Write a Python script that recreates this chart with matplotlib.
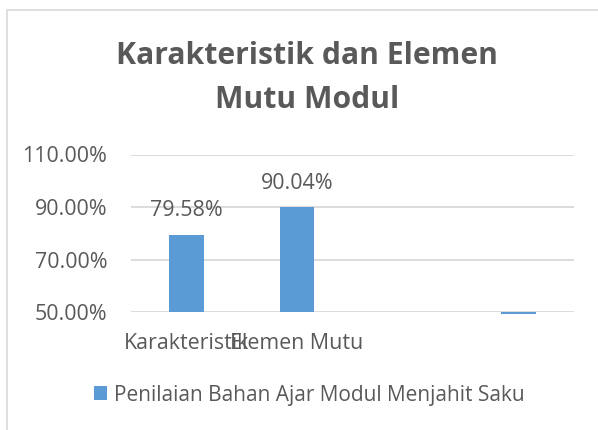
import numpy as np
import matplotlib
matplotlib.use("Agg")
import matplotlib.pyplot as plt
from matplotlib.patches import Rectangle, Patch

categories = ["Karakteristik", "Elemen Mutu", "", ""]
values = [0.7958, 0.9004, np.nan, 0.492]
series_name = "Penilaian Bahan Ajar Modul Menjahit Saku"
title = "Karakteristik dan Elemen\nMutu Modul"
yticks = [0.5, 0.7, 0.9, 1.1]

plt.rcParams['font.family'] = ['Open Sans', 'DejaVu Sans']
W, H = 598, 430
fig = plt.figure(figsize=(W / 100, H / 100), dpi=100)
ax = fig.add_axes([131 / W, 1 - 312.3 / H, (574 - 131) / W, (312.3 - 154.5) / H])

blue = '#5B9BD5'
gray = '#595959'
grid = '#D9D9D9'
fs = 15.4
ymin, ymax = 0.5, 1.1
x = np.arange(len(categories))
heights = [v - ymin if not np.isnan(v) else 0 for v in values]
bars = ax.bar(x, heights, bottom=ymin, width=0.31, color=blue, clip_on=False, zorder=3)
for xi, v in zip(x, values):
    if not np.isnan(v) and v >= ymin:
        ax.annotate(f"{v*100:.2f}%", (xi, v), xytext=(0, 17), textcoords='offset points',
                    ha='center', va='center', fontsize=fs, color=gray)

ax.set_xlim(-0.5, len(categories) - 0.5)
ax.set_ylim(ymin, ymax)
ax.set_yticks(yticks)
ax.set_yticklabels([f"{t*100:.2f}%" for t in yticks])
ax.set_xticks(x)
ax.set_xticklabels(categories)
ax.tick_params(axis='y', length=0, pad=17, labelsize=fs, labelcolor=gray)
ax.tick_params(axis='x', length=0, pad=15, labelsize=fs, labelcolor=gray)
for s in ax.spines.values():
    s.set_visible(False)
ax.grid(axis='y', color=grid, linewidth=1.3, zorder=0)
ax.set_axisbelow(True)

fig.text(307 / W, 1 - 78 / H, title, ha='center', va='center', fontsize=21.7,
         fontweight='bold', color=gray, linespacing=1.62)

leg = fig.legend(handles=[Patch(facecolor=blue, edgecolor='none', label=series_name)],
                 loc='center', bbox_to_anchor=(309 / W, 1 - 395 / H), frameon=False,
                 fontsize=15, handlelength=0.65, handleheight=0.65, handletextpad=0.3,
                 borderpad=0)
for t in leg.get_texts():
    t.set_color(gray)

fig.patches.append(Rectangle((6.5 / W, -0.1), 1.2, 1 - 9.5 / H + 0.1, transform=fig.transFigure,
                             fill=False, edgecolor=grid, linewidth=1.2))

fig.savefig("out.png", dpi=100)
